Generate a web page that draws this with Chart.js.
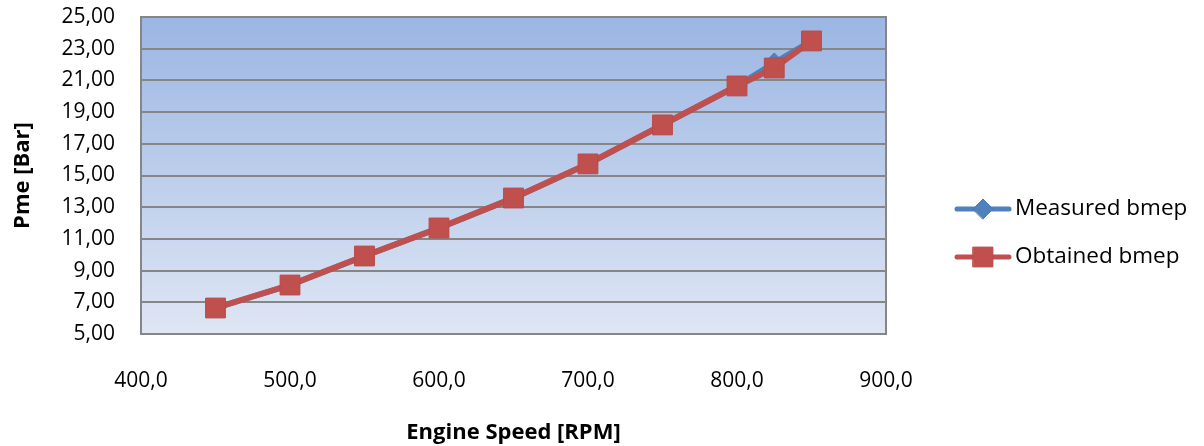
<!DOCTYPE html>
<html>
<head>
<meta charset="utf-8">
<script src="https://cdn.jsdelivr.net/npm/chart.js@4.4.1/dist/chart.umd.min.js"></script>
<style>
html,body{margin:0;padding:0;background:#fff;}
#wrap{width:1204px;height:446px;position:relative;}
</style>
</head>
<body>
<div id="wrap"><canvas id="c" width="1204" height="446"></canvas></div>
<script>
const rpm = [450, 500, 550, 600, 650, 700, 750, 800, 825, 850];
const measuredBmep = [6.64, 8.09, 9.92, 11.69, 13.58, 15.73, 18.19, 20.65, 22.1, 23.49];
const obtainedBmep = [6.64, 8.09, 9.92, 11.69, 13.58, 15.73, 18.19, 20.65, 21.78, 23.49];
const seriesNames = ['Measured bmep', 'Obtained bmep'];
const xTitle = 'Engine Speed [RPM]';
const yTitle = 'Pme [Bar]';

const FONT = "'Open Sans', 'Liberation Sans', sans-serif";
const BLUE = '#4f81bd', RED = '#c0504d';

const bgPlugin = {
  id: 'bg',
  beforeDraw(chart) {
    const {ctx, chartArea: a} = chart;
    const g = ctx.createLinearGradient(0, a.top, 0, a.bottom);
    g.addColorStop(0, '#9bb6e3');
    g.addColorStop(1, '#dfe6f4');
    ctx.save();
    ctx.fillStyle = g;
    ctx.fillRect(a.left, a.top, a.right - a.left, a.bottom - a.top);
    ctx.restore();
  },
  beforeDatasetsDraw(chart) {
    const {ctx, chartArea: a} = chart;
    ctx.save();
    ctx.strokeStyle = '#868686';
    ctx.lineWidth = 2;
    ctx.strokeRect(a.left, a.top, a.right - a.left, a.bottom - a.top);
    ctx.restore();
  }
};

const legendPlugin = {
  id: 'customLegend',
  afterDraw(chart) {
    const {ctx} = chart;
    const ys = [209, 257];
    chart.data.datasets.forEach((ds, i) => {
      const y = ys[i];
      ctx.save();
      ctx.strokeStyle = ds.borderColor;
      ctx.lineWidth = 5;
      ctx.lineCap = 'round';
      ctx.beginPath();
      ctx.moveTo(957, y);
      ctx.lineTo(1009, y);
      ctx.stroke();
      ctx.fillStyle = ds.pointBackgroundColor;
      ctx.strokeStyle = ds.pointBorderColor;
      ctx.lineWidth = 1;
      Chart.helpers.drawPoint(ctx, {pointStyle: ds.pointStyle, radius: ds.pointRadius, borderWidth: 1}, 983, y);
      ctx.fillStyle = '#000';
      ctx.font = '22.5px ' + FONT;
      ctx.textBaseline = 'middle';
      ctx.textAlign = 'left';
      ctx.fillText(ds.label, 1015, y);
      ctx.restore();
    });
  }
};

new Chart(document.getElementById('c'), {
  type: 'line',
  data: {
    datasets: [
      {
        label: seriesNames[0],
        data: rpm.map((x, i) => ({x, y: measuredBmep[i]})),
        order: 2,
        borderColor: BLUE,
        backgroundColor: BLUE,
        borderWidth: 6,
        pointStyle: 'rectRot',
        pointRadius: 10,
        pointBackgroundColor: BLUE,
        pointBorderColor: '#4a7ab5',
        pointBorderWidth: 1,
        tension: 0
      },
      {
        label: seriesNames[1],
        data: rpm.map((x, i) => ({x, y: obtainedBmep[i]})),
        order: 1,
        borderColor: RED,
        backgroundColor: RED,
        borderWidth: 6,
        pointStyle: 'rect',
        pointRadius: 14,
        pointBackgroundColor: RED,
        pointBorderColor: '#b94a47',
        pointBorderWidth: 1,
        tension: 0
      }
    ]
  },
  options: {
    responsive: false,
    animation: false,
    layout: {padding: {left: 0, top: 17, right: 318, bottom: 0}},
    plugins: {legend: {display: false}, tooltip: {enabled: false}},
    scales: {
      x: {
        type: 'linear',
        min: 400, max: 900,
        afterFit(s) { s.height = 112; s.paddingLeft = 0; s.paddingRight = 0; },
        grid: {display: false, drawTicks: false},
        border: {display: false},
        ticks: {
          stepSize: 100,
          padding: 34,
          color: '#000',
          font: {family: FONT, size: 21},
          callback: v => v.toFixed(1).replace('.', ',')
        },
        title: {
          display: true,
          text: xTitle,
          color: '#000',
          font: {family: FONT, size: 22, weight: 'bold'},
          padding: {top: 18, bottom: 0}
        }
      },
      y: {
        min: 5, max: 25,
        afterFit(s) { s.width = 141; s.paddingTop = 0; s.paddingBottom = 0; },
        grid: {color: '#868686', lineWidth: 2, drawTicks: false},
        border: {display: false},
        ticks: {
          stepSize: 2,
          padding: 26,
          color: '#000',
          font: {family: FONT, size: 21},
          callback: v => v.toFixed(2).replace('.', ',')
        },
        title: {
          display: true,
          text: yTitle,
          color: '#000',
          font: {family: FONT, size: 22, weight: 'bold'},
          padding: {top: 10, bottom: 10}
        }
      }
    }
  },
  plugins: [bgPlugin, legendPlugin]
});
</script>
</body>
</html>
